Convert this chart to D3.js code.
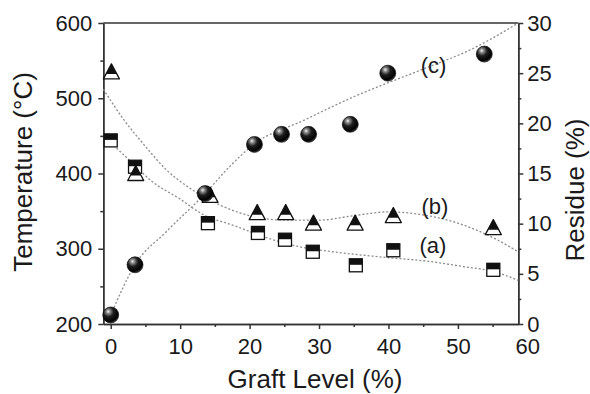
<!DOCTYPE html>
<html>
<head>
<meta charset="utf-8">
<script src="https://cdn.jsdelivr.net/npm/d3@7"></script>
<style>
  body { margin: 0; background: #fff; }
  text { font-family: "Liberation Sans", Arial, sans-serif; fill: #1a1a1a; }
</style>
</head>
<body>
<div id="chart"></div>
<script>
// tick labels
var xTicks = [0, 10, 20, 30, 40, 50, 60];
var xMinor = [5, 15, 25, 35, 45, 55];
var tempTicks = [200, 300, 400, 500, 600];
var tempMinor = [250, 350, 450, 550];
var resTicks = [0, 5, 10, 15, 20, 25, 30];
var resMinor = [2.5, 7.5, 12.5, 17.5, 22.5, 27.5];

// (a) squares, temperature
var sqX = [0, 3.5, 14, 21.2, 25.1, 29.1, 35.3, 40.7, 55.1];
var sqT = [444, 409, 334, 321, 312, 296, 278, 298, 272];

// (b) triangles, temperature
var triX = [0.1, 3.6, 14.3, 21.1, 25.2, 29.2, 35.2, 40.7, 55.1];
var triT = [535, 400, 371, 348, 348, 334, 334, 344, 328];

// (c) spheres, residue
var sphX = [0, 3.5, 13.6, 20.7, 24.6, 28.5, 34.5, 39.9, 53.8];
var sphR = [0.9, 5.9, 13.0, 17.9, 18.9, 18.9, 19.9, 25.0, 26.9];

// dotted fit curves
var fitAx = [0, 3, 6, 10, 13, 18, 23, 27, 32, 39, 46, 51, 55, 58.7];
var fitAT = [441, 415, 389, 366, 347, 330, 313, 303, 296, 289, 283, 276, 270, 258];
var fitBx = [-1.07, 2, 5, 8, 11, 14, 17, 20, 25, 30, 35, 40, 45, 50, 55, 58.7];
var fitBT = [512, 470, 436, 405, 383, 366, 353, 344, 338, 338, 344, 349, 345, 334, 315, 296];
var fitCx = [0, 3.5, 8, 13.6, 17, 20.6, 27.8, 35, 44.6, 52, 58.7];
var fitCR = [0.9, 5.9, 9.2, 13.0, 15.6, 17.9, 20.3, 22.65, 25.3, 27.4, 30];

// curve labels
var labText = ["(a)", "(b)", "(c)"];
var labX = [46.4, 46.7, 46.5];
var labT = [305, 356, 544];

var W = 590, H = 394;
var m = {left: 103.3, right: 518.3, top: 23, bottom: 324};
var font = '"Liberation Sans", Arial, sans-serif';

var svg = d3.select('#chart').append('svg')
    .attr('width', W).attr('height', H);

var defs = svg.append('defs');
var grad = defs.append('radialGradient')
    .attr('id', 'ball').attr('cx', '38%').attr('cy', '32%').attr('r', '70%')
    .attr('fx', '34%').attr('fy', '28%');
grad.append('stop').attr('offset', '0%').attr('stop-color', '#f2f2f2');
grad.append('stop').attr('offset', '18%').attr('stop-color', '#8a8a8a');
grad.append('stop').attr('offset', '45%').attr('stop-color', '#1e1e1e');
grad.append('stop').attr('offset', '85%').attr('stop-color', '#000');
grad.append('stop').attr('offset', '100%').attr('stop-color', '#444');

var x = d3.scaleLinear().domain([-1.07, 58.7]).range([m.left, m.right]);
var yT = d3.scaleLinear().domain([200, 600]).range([m.bottom, m.top]);
var yR = d3.scaleLinear().domain([0, 30]).range([m.bottom, m.top]);

function styleAxis(g, size) {
    g.attr('font-family', font).attr('font-size', size);
    g.selectAll('path, line').attr('stroke', '#333').attr('stroke-width', 1.5);
    g.selectAll('text').attr('fill', '#1a1a1a');
}

// minor ticks
svg.append('g').attr('transform', 'translate(' + m.left + ',0)')
    .call(d3.axisLeft(yT).tickValues(tempMinor).tickSize(3).tickFormat('').tickSizeOuter(0))
    .call(styleAxis, 22);
svg.append('g').attr('transform', 'translate(' + m.right + ',0)')
    .call(d3.axisRight(yR).tickValues(resMinor).tickSize(3).tickFormat('').tickSizeOuter(0))
    .call(styleAxis, 22);
svg.append('g').attr('transform', 'translate(0,' + m.bottom + ')')
    .call(d3.axisBottom(x).tickValues(xMinor).tickSize(3).tickFormat('').tickSizeOuter(0))
    .call(styleAxis, 22);

// major axes
svg.append('g').attr('transform', 'translate(' + m.left + ',0)')
    .call(d3.axisLeft(yT).tickValues(tempTicks).tickSize(5).tickPadding(6).tickSizeOuter(0))
    .call(styleAxis, 22);
svg.append('g').attr('transform', 'translate(' + m.right + ',0)')
    .call(d3.axisRight(yR).tickValues(resTicks).tickSize(5).tickPadding(4).tickSizeOuter(0))
    .call(styleAxis, 22);
var xAxis = svg.append('g').attr('transform', 'translate(0,' + m.bottom + ')')
    .call(d3.axisBottom(x).tickValues(xTicks).tickSize(5).tickPadding(9).tickSizeOuter(0))
    .call(styleAxis, 22);
xAxis.selectAll('.tick').filter(function(d) { return d > 58.7; }).select('line').remove();

// top frame line
svg.append('line')
    .attr('x1', m.left).attr('x2', m.right).attr('y1', m.top).attr('y2', m.top)
    .attr('stroke', '#333').attr('stroke-width', 1.5);

// axis titles
svg.append('text')
    .attr('x', 315).attr('y', 388)
    .attr('text-anchor', 'middle').attr('font-size', 26)
    .text('Graft Level (%)');
svg.append('text')
    .attr('transform', 'translate(31.5,172) rotate(-90)')
    .attr('text-anchor', 'middle').attr('font-size', 26)
    .text('Temperature (°C)');
svg.append('text')
    .attr('transform', 'translate(584,190) rotate(-90)')
    .attr('text-anchor', 'middle').attr('font-size', 26)
    .text('Residue (%)');

// fit curves
var fits = [
    {xs: fitAx, ys: fitAT, y: yT},
    {xs: fitBx, ys: fitBT, y: yT},
    {xs: fitCx, ys: fitCR, y: yR}
];
fits.forEach(function(f) {
    var pts = f.xs.map(function(v, i) { return [v, f.ys[i]]; });
    svg.append('path')
        .datum(pts)
        .attr('fill', 'none')
        .attr('stroke', '#8c8c8c')
        .attr('stroke-width', 1.3)
        .attr('stroke-dasharray', '2,2')
        .attr('d', d3.line()
            .curve(d3.curveMonotoneX)
            .x(function(d) { return x(d[0]); })
            .y(function(d) { return f.y(d[1]); }));
});

// curve labels
svg.selectAll('.lab')
    .data(labText)
    .enter().append('text')
    .attr('class', 'lab')
    .attr('x', function(d, i) { return x(labX[i]); })
    .attr('y', function(d, i) { return yT(labT[i]); })
    .attr('dy', '0.35em')
    .attr('text-anchor', 'middle')
    .attr('font-size', 22)
    .text(function(d) { return d; });

// squares: top half black, bottom half white
var sq = svg.selectAll('.sq')
    .data(sqX.map(function(v, i) { return [v, sqT[i]]; }))
    .enter().append('g')
    .attr('class', 'sq')
    .attr('transform', function(d) { return 'translate(' + x(d[0]) + ',' + yT(d[1]) + ')'; });
sq.append('rect')
    .attr('x', -6.5).attr('y', -6.5).attr('width', 13).attr('height', 13)
    .attr('fill', '#fff').attr('stroke', '#111').attr('stroke-width', 1.3);
sq.append('rect')
    .attr('x', -6.5).attr('y', -6.5).attr('width', 13).attr('height', 6)
    .attr('fill', '#111');

// triangles: top part black, bottom part white
var tri = svg.selectAll('.tri')
    .data(triX.map(function(v, i) { return [v, triT[i]]; }))
    .enter().append('g')
    .attr('class', 'tri')
    .attr('transform', function(d) { return 'translate(' + x(d[0]) + ',' + yT(d[1]) + ')'; });
tri.append('path')
    .attr('d', 'M0,-8 L8,7 L-8,7 Z')
    .attr('fill', '#fff').attr('stroke', '#111').attr('stroke-width', 1.3)
    .attr('stroke-linejoin', 'round');
tri.append('path')
    .attr('d', 'M0,-8 L5.3,2 L-5.3,2 Z')
    .attr('fill', '#111');

// spheres
svg.selectAll('.ball')
    .data(sphX.map(function(v, i) { return [v, sphR[i]]; }))
    .enter().append('circle')
    .attr('class', 'ball')
    .attr('cx', function(d) { return x(d[0]); })
    .attr('cy', function(d) { return yR(d[1]); })
    .attr('r', 8)
    .attr('fill', 'url(#ball)')
    .attr('stroke', '#000').attr('stroke-width', 0.6);
</script>
</body>
</html>
